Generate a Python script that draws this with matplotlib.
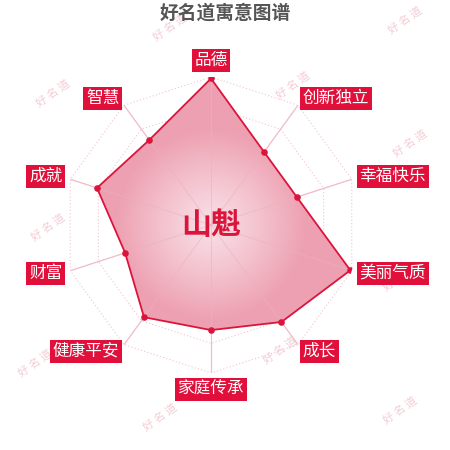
import numpy as np
import matplotlib
matplotlib.use("Agg")
import matplotlib.pyplot as plt
from matplotlib.colors import LinearSegmentedColormap

plt.rcParams['font.family'] = ['Noto Sans CJK SC', 'DejaVu Sans']

title = "好名道寓意图谱"
name = "山魁"
categories = ["品德", "创新独立", "幸福快乐", "美丽气质", "成长",
              "家庭传承", "健康平安", "财富", "成就", "智慧"]
values = [99, 61, 61, 99, 81, 71, 77, 61, 81, 71]
max_value = 100
grid_levels = [20, 40, 60, 80, 100]

red = '#dc143c'
label_bg = '#e0103a'
grid_pink = '#f2c4ce'

fig = plt.figure(figsize=(4.5, 4.5), dpi=100)
# center at (211, 225) px, radius 148 px
ax = fig.add_axes([63 / 450, 77 / 450, 296 / 450, 296 / 450], projection='polar')
ax.set_theta_offset(np.pi / 2)
ax.set_theta_direction(-1)
ax.set_ylim(0, max_value)
ax.axis('off')

n = len(categories)
theta = np.linspace(0, 2 * np.pi, n, endpoint=False)
theta_c = np.append(theta, theta[0])
vals_c = np.append(values, values[0])

# dotted grid rings
for lv in grid_levels:
    ax.plot(theta_c, [lv] * (n + 1), linestyle=(0, (1, 2)), color=grid_pink, lw=0.8, zorder=1)
# spokes
for t in theta:
    ax.plot([t, t], [0, max_value], color='#f3cdd5', lw=0.9, zorder=1)

# radial gradient fill clipped to the polygon
cmap = LinearSegmentedColormap.from_list('pinkgrad', [
    (0.0, (248 / 255, 226 / 255, 232 / 255)),
    (0.45, (244 / 255, 198 / 255, 209 / 255)),
    (1.0, (237 / 255, 160 / 255, 177 / 255))])
tg = np.linspace(0, 2 * np.pi, 181)
rg = np.linspace(0, max_value, 81)
T, Rr = np.meshgrid(tg, rg)
C = np.clip((Rr[:-1, :-1] + 1) / 65, 0, 1)
mesh = ax.pcolormesh(T, Rr, C, cmap=cmap, vmin=0, vmax=1, shading='flat', zorder=2)
poly = ax.fill(theta_c, vals_c, facecolor='none', edgecolor='none', zorder=2)[0]
mesh.set_clip_path(poly)

# spokes faintly over the fill
for t in theta:
    ax.plot([t, t], [0, max_value], color='#eab3bf', lw=0.7, alpha=0.6, zorder=3)

ax.plot(theta_c, vals_c, color=red, lw=1.3, zorder=4)
ax.scatter(theta, values, s=14, color=red, zorder=5)

# category labels
r_lab = 105.5
for t, cat in zip(theta, categories):
    deg = np.degrees(t)
    if np.isclose(deg, 0):
        ha, va = 'center', 'bottom'
    elif np.isclose(deg, 180):
        ha, va = 'center', 'top'
    elif deg < 180:
        ha, va = 'left', 'center'
    else:
        ha, va = 'right', 'center'
    ax.text(t, r_lab, cat, ha=ha, va=va, fontsize=12, color='white',
            clip_on=False, zorder=6,
            bbox=dict(boxstyle='square,pad=0.17', facecolor=label_bg, edgecolor='none'))

ax.text(0, 0, name, ha='center', va='center', fontsize=21.5, fontweight='bold',
        color=red, zorder=7)

fig.text(0.5, 1 - 13 / 450, title, ha='center', va='center', fontsize=13.5,
         fontweight='bold', color='#555555')

# watermarks
marks = [(405, 20), (170, 27), (53, 93), (293, 85), (410, 143), (48, 227),
         (400, 277), (35, 363), (280, 350), (160, 417), (400, 410)]
for x, y in marks:
    fig.text(x / 450, 1 - y / 450, "好 名 道", ha='center', va='center', fontsize=8,
             color='#f0c0ca', rotation=35, alpha=0.8, zorder=-1)

fig.savefig('out.png', dpi=100)
